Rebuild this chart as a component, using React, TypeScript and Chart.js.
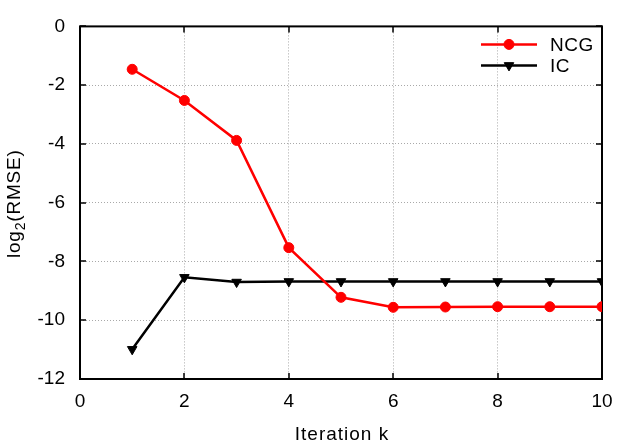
import React, { useEffect, useRef } from "react";
import { Chart, registerables } from "chart.js";

Chart.register(...registerables);

const iterations = [1, 2, 3, 4, 5, 6, 7, 8, 9, 10];
const ncgValues = [-1.46, -2.52, -3.88, -7.53, -9.22, -9.56, -9.55, -9.54, -9.54, -9.54];
const icValues = [-10.99, -8.54, -8.7, -8.68, -8.68, -8.68, -8.68, -8.68, -8.68, -8.68];
const seriesNames = ["NCG", "IC"];
const xTitle = "Iteration k";
const yTitleMain = "log";
const yTitleSub = "2";
const yTitleRest = "(RMSE)";

const FONT = '"Liberation Sans", Arial, Helvetica, sans-serif';
const FONT_SIZE = 19;

const framePlugin = {
  id: "frame",
  beforeDatasetsDraw(chart: any) {
    const { ctx, chartArea } = chart;
    const { left, right, top, bottom } = chartArea;
    const xs = chart.scales.x;
    const ys = chart.scales.y;
    ctx.save();
    ctx.strokeStyle = "#000";
    ctx.lineWidth = 2;
    ctx.setLineDash([]);
    ctx.strokeRect(left, top, right - left, bottom - top);
    ctx.lineWidth = 1.5;
    const tl = 6;
    ctx.beginPath();
    xs.ticks.forEach((t: any) => {
      const px = Math.round(xs.getPixelForValue(t.value));
      ctx.moveTo(px, bottom);
      ctx.lineTo(px, bottom - tl);
      ctx.moveTo(px, top);
      ctx.lineTo(px, top + tl);
    });
    ys.ticks.forEach((t: any) => {
      const py = Math.round(ys.getPixelForValue(t.value));
      ctx.moveTo(left, py);
      ctx.lineTo(left + tl, py);
      ctx.moveTo(right, py);
      ctx.lineTo(right - tl, py);
    });
    ctx.stroke();
    ctx.restore();
  },
  afterDraw(chart: any) {
    const { ctx, chartArea } = chart;
    const { left, right, top, bottom } = chartArea;
    ctx.save();
    ctx.fillStyle = "#000";
    ctx.font = `${FONT_SIZE}px ${FONT}`;
    // x title
    ctx.letterSpacing = "1px";
    ctx.textAlign = "center";
    ctx.textBaseline = "alphabetic";
    ctx.fillText(xTitle, (left + right) / 2 + 1, 440);
    // y title (rotated)
    ctx.letterSpacing = "0.8px";
    const subFont = `${Math.round(FONT_SIZE * 0.72)}px ${FONT}`;
    const mainFont = `${FONT_SIZE}px ${FONT}`;
    ctx.font = mainFont;
    const w1 = ctx.measureText(yTitleMain).width;
    const w3 = ctx.measureText(yTitleRest).width;
    ctx.font = subFont;
    const w2 = ctx.measureText(yTitleSub).width;
    const total = w1 + w2 + w3;
    ctx.translate(20, (top + bottom) / 2 + 1);
    ctx.rotate(-Math.PI / 2);
    ctx.textAlign = "left";
    let x0 = -total / 2;
    ctx.font = mainFont;
    ctx.fillText(yTitleMain, x0, 0);
    x0 += w1;
    ctx.font = subFont;
    ctx.fillText(yTitleSub, x0, 5);
    x0 += w2;
    ctx.font = mainFont;
    ctx.fillText(yTitleRest, x0, 0);
    ctx.restore();

    // legend
    ctx.save();
    const datasets = chart.data.datasets;
    datasets.forEach((ds: any, i: number) => {
      const y = top + 18 + i * 21;
      const x1 = right - 121;
      const x2 = right - 65;
      const xm = (x1 + x2) / 2;
      ctx.strokeStyle = ds.borderColor;
      ctx.lineWidth = ds.borderWidth;
      ctx.beginPath();
      ctx.moveTo(x1, y);
      ctx.lineTo(x2, y);
      ctx.stroke();
      ctx.fillStyle = ds.pointBackgroundColor;
      ctx.strokeStyle = ds.pointBorderColor;
      ctx.lineWidth = ds.pointBorderWidth;
      const r = ds.pointRadius;
      ctx.beginPath();
      if (ds.pointStyle === "circle") {
        ctx.arc(xm, y, r, 0, Math.PI * 2);
      } else {
        ctx.moveTo(xm, y + r);
        ctx.lineTo(xm - r * Math.sin(Math.PI / 3), y - r / 2);
        ctx.lineTo(xm + r * Math.sin(Math.PI / 3), y - r / 2);
        ctx.closePath();
      }
      ctx.fill();
      ctx.stroke();
      ctx.fillStyle = "#000";
      ctx.font = `${FONT_SIZE}px ${FONT}`;
      ctx.letterSpacing = "0.5px";
      ctx.textAlign = "left";
      ctx.textBaseline = "middle";
      ctx.fillText(ds.label, right - 52, y + 1);
    });
    ctx.restore();
  },
};

export default function App() {
  const ref = useRef<HTMLCanvasElement | null>(null);
  useEffect(() => {
    if (!ref.current) return;
    const gridColor = "rgba(160,160,160,0.9)";
    const tickFont = { family: FONT, size: FONT_SIZE };
    const chart = new Chart(ref.current, {
      type: "line",
      data: {
        datasets: [
          {
            label: seriesNames[0],
            data: iterations.map((x, i) => ({ x, y: ncgValues[i] })),
            borderColor: "#ff0000",
            backgroundColor: "#ff0000",
            pointBackgroundColor: "#ff0000",
            pointBorderColor: "#ff0000",
            borderWidth: 2.5,
            pointStyle: "circle",
            pointRadius: 5,
            pointBorderWidth: 1,
            tension: 0,
          } as any,
          {
            label: seriesNames[1],
            data: iterations.map((x, i) => ({ x, y: icValues[i] })),
            borderColor: "#000000",
            backgroundColor: "#000000",
            pointBackgroundColor: "#000000",
            pointBorderColor: "#000000",
            borderWidth: 2.5,
            pointStyle: "triangle",
            pointRotation: 180,
            pointRadius: 5.5,
            pointBorderWidth: 1,
            tension: 0,
          } as any,
        ],
      },
      options: {
        responsive: false,
        animation: false,
        devicePixelRatio: 1,
        layout: { padding: { top: 24, right: 38, left: 0, bottom: 0 } },
        plugins: {
          legend: { display: false },
          tooltip: { enabled: false },
        },
        scales: {
          x: {
            type: "linear",
            min: 0,
            max: 10,
            ticks: { stepSize: 2, font: tickFont, color: "#000", padding: 11, maxRotation: 0, autoSkip: false },
            grid: { color: gridColor, lineWidth: 1, drawTicks: false },
            border: { display: false, dash: [1, 2] },
            afterFit: (s: any) => {
              s.height = 69;
            },
          },
          y: {
            type: "linear",
            min: -12,
            max: 0,
            ticks: { stepSize: 2, font: tickFont, color: "#000", padding: 15, autoSkip: false },
            grid: { color: gridColor, lineWidth: 1, drawTicks: false },
            border: { display: false, dash: [1, 2] },
            afterFit: (s: any) => {
              s.width = 80;
            },
          },
        },
      } as any,
      plugins: [framePlugin],
    });
    return () => chart.destroy();
  }, []);
  return (
    <div style={{ position: "fixed", left: 0, top: 0, width: 640, height: 448, background: "#fff" }}>
      <canvas ref={ref} width={640} height={448} style={{ display: "block", width: 640, height: 448 }} />
    </div>
  );
}
